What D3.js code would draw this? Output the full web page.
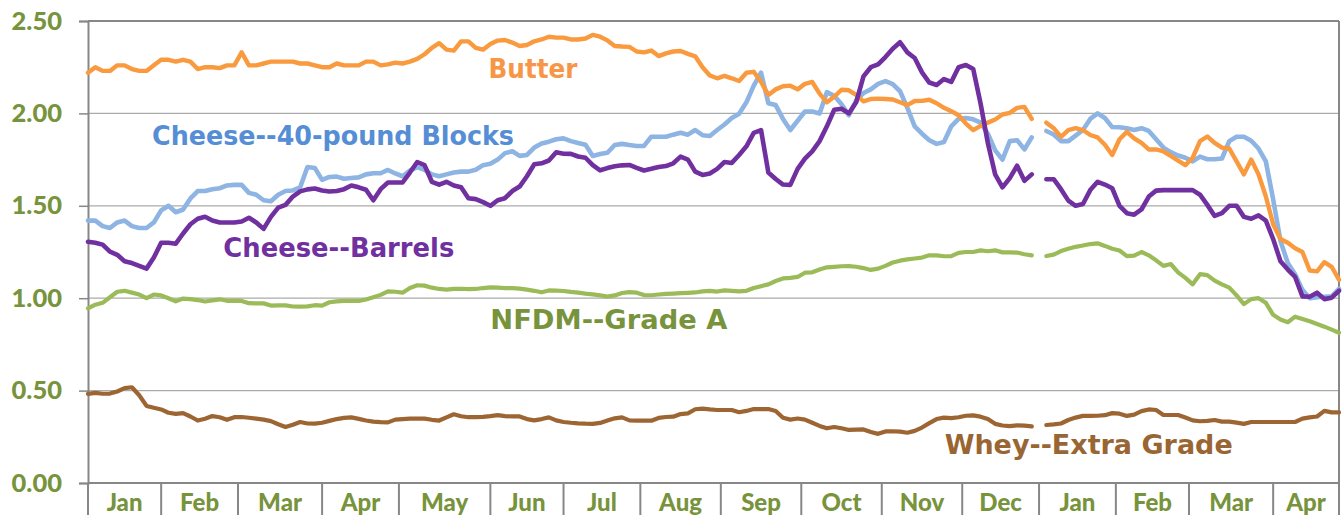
<!DOCTYPE html>
<html>
<head>
<meta charset="utf-8">
<script src="https://cdn.jsdelivr.net/npm/d3@7"></script>
<style>
  html, body { margin: 0; padding: 0; background: #ffffff; }
  svg { display: block; }
</style>
</head>
<body>
<svg id="chart" width="1343" height="515"></svg>
<script>
// ---------------- DATA ----------------
const months = ["Jan","Feb","Mar","Apr","May","Jun","Jul","Aug","Sep","Oct","Nov","Dec","Jan","Feb","Mar","Apr"];
// number of trading days in each month of the category axis
const tradingDays = [20,21,23,21,25,20,21,22,22,22,22,21,21,20,23,18];
// one price sample every 2 trading days ($/lb); null = no quote
const sampleStep = 2;
const yTicks = [0, 0.5, 1.0, 1.5, 2.0, 2.5];

const butter = [
 2.22,2.25,2.23,2.23,2.26,2.26,2.24,2.23,2.23,2.26,
 2.29,2.29,2.28,2.29,2.28,2.24,2.25,2.25,2.245,2.26,
 2.26,2.33,2.26,2.26,2.27,2.28,2.28,2.28,2.28,2.27,
 2.27,2.26,2.25,2.25,2.27,2.26,2.26,2.26,2.28,2.28,
 2.26,2.265,2.275,2.27,2.28,2.295,2.32,2.355,2.38,2.345,
 2.34,2.39,2.39,2.355,2.345,2.375,2.394,2.397,2.383,2.365,
 2.37,2.39,2.40,2.415,2.41,2.41,2.40,2.40,2.405,2.425,
 2.415,2.395,2.365,2.362,2.36,2.335,2.33,2.34,2.31,2.325,
 2.335,2.338,2.322,2.309,2.25,2.205,2.19,2.203,2.19,2.175,
 2.22,2.225,2.17,2.10,2.13,2.147,2.15,2.13,2.16,2.17,
 2.107,2.06,2.09,2.128,2.125,2.10,2.065,2.078,2.08,2.078,
 2.075,2.06,2.045,2.067,2.068,2.074,2.055,2.03,2.012,1.99,
 1.945,1.91,1.933,1.95,1.967,1.994,2.003,2.03,2.035,1.97,
 null,1.95,1.92,1.873,1.91,1.92,1.91,1.883,1.87,1.83,
 1.775,1.86,1.90,1.865,1.84,1.805,1.805,1.795,1.77,1.745,
 1.72,1.76,1.85,1.875,1.84,1.815,1.81,1.74,1.67,1.75,
 1.67,1.55,1.40,1.32,1.30,1.27,1.25,1.15,1.145,1.195,
 1.17,1.10
];

const blocks = [
 1.42,1.42,1.39,1.38,1.41,1.42,1.39,1.38,1.38,1.41,
 1.475,1.50,1.465,1.48,1.54,1.58,1.58,1.59,1.595,1.61,
 1.613,1.613,1.57,1.56,1.53,1.525,1.56,1.58,1.583,1.60,
 1.71,1.705,1.64,1.656,1.658,1.646,1.65,1.654,1.67,1.676,
 1.676,1.694,1.675,1.66,1.69,1.709,1.695,1.67,1.66,1.67,
 1.68,1.685,1.685,1.695,1.72,1.727,1.75,1.785,1.795,1.77,
 1.775,1.815,1.837,1.847,1.86,1.865,1.85,1.84,1.83,1.77,
 1.78,1.787,1.829,1.835,1.829,1.824,1.824,1.874,1.874,1.874,
 1.885,1.895,1.885,1.91,1.882,1.878,1.91,1.94,1.975,1.998,
 2.06,2.15,2.22,2.055,2.045,1.97,1.91,1.96,2.01,2.01,
 2.0,2.115,2.095,2.05,1.99,2.07,2.11,2.13,2.16,2.175,
 2.158,2.12,2.03,1.93,1.89,1.855,1.835,1.845,1.93,1.97,
 1.975,1.968,1.95,1.89,1.80,1.75,1.85,1.855,1.805,1.87,
 null,1.905,1.886,1.85,1.85,1.88,1.91,1.97,2.0,1.975,
 1.926,1.925,1.92,1.91,1.92,1.905,1.86,1.815,1.79,1.772,
 1.76,1.74,1.766,1.752,1.752,1.756,1.85,1.874,1.874,1.852,
 1.81,1.74,1.535,1.31,1.19,1.13,1.045,1.0,1.005,1.008,
 1.01,1.05
];

const barrels = [
 1.305,1.30,1.29,1.252,1.235,1.20,1.19,1.175,1.16,1.22,
 1.30,1.30,1.295,1.35,1.40,1.43,1.441,1.42,1.41,1.41,
 1.41,1.415,1.435,1.41,1.375,1.44,1.49,1.505,1.55,1.578,
 1.589,1.594,1.583,1.577,1.58,1.59,1.61,1.60,1.587,1.53,
 1.59,1.626,1.626,1.626,1.68,1.737,1.72,1.63,1.614,1.63,
 1.61,1.60,1.541,1.536,1.52,1.50,1.53,1.541,1.58,1.604,
 1.66,1.725,1.73,1.745,1.79,1.782,1.781,1.767,1.76,1.72,
 1.692,1.704,1.714,1.719,1.721,1.705,1.691,1.70,1.71,1.715,
 1.73,1.766,1.75,1.685,1.667,1.675,1.70,1.737,1.732,1.775,
 1.822,1.895,1.91,1.68,1.645,1.615,1.613,1.70,1.755,1.795,
 1.85,1.93,2.02,2.025,2.00,2.06,2.20,2.25,2.265,2.305,
 2.35,2.385,2.33,2.30,2.222,2.167,2.154,2.186,2.17,2.25,
 2.262,2.24,2.055,1.84,1.67,1.60,1.65,1.717,1.635,1.67,
 null,1.644,1.644,1.59,1.528,1.50,1.51,1.585,1.63,1.615,
 1.595,1.50,1.46,1.452,1.48,1.55,1.582,1.585,1.585,1.585,
 1.585,1.585,1.56,1.505,1.445,1.46,1.50,1.50,1.44,1.43,
 1.448,1.42,1.32,1.20,1.155,1.115,1.01,1.008,1.03,0.995,
 1.003,1.04
];

const nfdm = [
 0.945,0.965,0.975,1.005,1.035,1.04,1.03,1.02,1.0,1.02,
 1.015,1.00,0.983,0.998,0.995,0.99,0.982,0.988,0.994,0.986,
 0.987,0.985,0.973,0.972,0.972,0.96,0.961,0.961,0.955,0.954,
 0.956,0.962,0.96,0.978,0.983,0.985,0.985,0.985,0.993,1.005,
 1.018,1.037,1.035,1.03,1.055,1.07,1.068,1.057,1.05,1.046,
 1.05,1.051,1.049,1.05,1.055,1.059,1.057,1.055,1.054,1.052,
 1.046,1.04,1.032,1.042,1.041,1.039,1.034,1.03,1.025,1.021,
 1.015,1.009,1.015,1.028,1.033,1.03,1.017,1.016,1.02,1.023,
 1.025,1.027,1.029,1.031,1.037,1.04,1.036,1.042,1.04,1.037,
 1.04,1.055,1.065,1.075,1.093,1.107,1.11,1.115,1.138,1.14,
 1.155,1.167,1.17,1.173,1.174,1.17,1.163,1.153,1.16,1.175,
 1.193,1.203,1.21,1.215,1.22,1.232,1.232,1.227,1.228,1.245,
 1.25,1.25,1.259,1.254,1.259,1.248,1.248,1.247,1.238,1.232,
 null,1.228,1.236,1.255,1.268,1.278,1.285,1.293,1.297,1.283,
 1.268,1.258,1.228,1.23,1.25,1.232,1.205,1.175,1.185,1.14,
 1.11,1.075,1.13,1.125,1.095,1.075,1.057,1.015,0.968,0.995,
 1.0,0.975,0.91,0.885,0.87,0.9,0.888,0.875,0.86,0.846,
 0.83,0.813
];

const whey = [
 0.482,0.488,0.483,0.484,0.495,0.513,0.518,0.475,0.417,0.407,
 0.398,0.38,0.374,0.378,0.36,0.338,0.348,0.362,0.356,0.342,
 0.356,0.357,0.353,0.348,0.343,0.335,0.318,0.303,0.315,0.33,
 0.322,0.321,0.326,0.336,0.346,0.352,0.355,0.347,0.338,0.332,
 0.329,0.328,0.343,0.346,0.348,0.348,0.348,0.342,0.338,0.355,
 0.372,0.361,0.356,0.357,0.358,0.362,0.367,0.362,0.36,0.36,
 0.346,0.339,0.346,0.355,0.339,0.33,0.326,0.323,0.321,0.32,
 0.325,0.338,0.35,0.355,0.339,0.337,0.337,0.337,0.352,0.357,
 0.359,0.373,0.377,0.399,0.402,0.398,0.395,0.395,0.395,0.383,
 0.39,0.40,0.40,0.40,0.39,0.353,0.343,0.349,0.343,0.326,
 0.309,0.296,0.303,0.296,0.287,0.289,0.29,0.276,0.266,0.279,
 0.28,0.278,0.272,0.282,0.30,0.324,0.346,0.354,0.351,0.356,
 0.364,0.366,0.359,0.346,0.32,0.311,0.308,0.312,0.31,0.306,
 null,0.314,0.317,0.322,0.341,0.354,0.363,0.363,0.364,0.367,
 0.378,0.375,0.363,0.37,0.389,0.398,0.395,0.368,0.368,0.368,
 0.354,0.339,0.334,0.336,0.341,0.332,0.332,0.327,0.32,0.33,
 0.33,0.33,0.33,0.33,0.33,0.33,0.348,0.355,0.36,0.39,
 0.382,0.382
];

// ---------------- CHART ----------------
const W = 1343, H = 515;
const margin = { left: 88, right: 4, top: 21, bottom: 32 };
const svg = d3.select("#chart");

const monthStart = [0];
tradingDays.forEach((d, i) => monthStart.push(monthStart[i] + d));
const totalDays = monthStart[monthStart.length - 1];

const x = d3.scaleLinear().domain([0, totalDays]).range([margin.left, W - margin.right]);
const y = d3.scaleLinear().domain([0, 2.5]).range([H - margin.bottom, margin.top]);

const axisGray = "#878787";
const gridGray = "#ababab";
const labelGreen = "#77933C";

// gridlines
svg.append("g")
  .selectAll("line")
  .data(yTicks.filter(t => t > 0 && t < 2.5))
  .join("line")
  .attr("x1", x(0)).attr("x2", x(totalDays))
  .attr("y1", d => y(d)).attr("y2", d => y(d))
  .attr("stroke", gridGray).attr("stroke-width", 1.2);

// plot frame top / right
svg.append("line").attr("x1", x(0)).attr("x2", x(totalDays)).attr("y1", y(2.5)).attr("y2", y(2.5))
  .attr("stroke", axisGray).attr("stroke-width", 2);
svg.append("line").attr("x1", x(totalDays)).attr("x2", x(totalDays)).attr("y1", y(2.5)).attr("y2", y(0))
  .attr("stroke", axisGray).attr("stroke-width", 2);

// Y axis
const yAxis = d3.axisLeft(y).tickValues(yTicks).tickSize(9).tickPadding(17)
  .tickFormat(d3.format(".2f"));
const gy = svg.append("g").attr("transform", `translate(${x(0)},0)`).call(yAxis);
gy.select(".domain").attr("stroke", axisGray).attr("stroke-width", 2);
gy.selectAll(".tick line").attr("stroke", axisGray).attr("stroke-width", 1.5);
gy.selectAll(".tick text")
  .attr("fill", labelGreen)
  .style("font-family", "Lato, 'Open Sans', sans-serif")
  .style("font-weight", "900")
  .style("font-size", "25.5px");

// X axis: month separators and labels
const gx = svg.append("g");
gx.append("line").attr("x1", x(0)).attr("x2", x(totalDays)).attr("y1", y(0)).attr("y2", y(0))
  .attr("stroke", axisGray).attr("stroke-width", 2);
gx.selectAll("line.sep")
  .data(monthStart)
  .join("line").attr("class", "sep")
  .attr("x1", d => x(d)).attr("x2", d => x(d))
  .attr("y1", y(0)).attr("y2", H)
  .attr("stroke", axisGray).attr("stroke-width", 2);
gx.selectAll("text")
  .data(months)
  .join("text")
  .attr("x", (d, i) => x((monthStart[i] + monthStart[i + 1]) / 2))
  .attr("y", 511)
  .attr("text-anchor", "middle")
  .attr("fill", labelGreen)
  .style("font-family", "Lato, 'Open Sans', sans-serif")
  .style("font-weight", "900")
  .style("font-size", "24px")
  .text(d => d);

// series
const series = [
  { name: "NFDM--Grade A", values: nfdm, color: "#9BBB59", width: 4.2 },
  { name: "Whey--Extra Grade", values: whey, color: "#9C6532", width: 4.2 },
  { name: "Cheese--40-pound Blocks", values: blocks, color: "#8DB4E2", width: 4.6 },
  { name: "Butter", values: butter, color: "#F99A3E", width: 4.4 },
  { name: "Cheese--Barrels", values: barrels, color: "#7030A0", width: 4.6 }
];

const line = d3.line()
  .defined(d => d != null)
  .x((d, i) => x(i * sampleStep))
  .y(d => y(d));

svg.append("g").selectAll("path")
  .data(series)
  .join("path")
  .attr("d", s => line(s.values))
  .attr("fill", "none")
  .attr("stroke", s => s.color)
  .attr("stroke-width", s => s.width)
  .attr("stroke-linejoin", "round")
  .attr("stroke-linecap", "round");

// series labels (anchored in data coordinates: trading day, price)
const labels = [
  { text: "Butter", day: 109.5, price: 2.19, color: "#F79646", len: 89 },
  { text: "Cheese--40-pound Blocks", day: 17.5, price: 1.83, color: "#558ED5", len: 362 },
  { text: "Cheese--Barrels", day: 37, price: 1.224, color: "#7030A0", len: 231 },
  { text: "NFDM--Grade A", day: 110, price: 0.833, color: "#77933C", len: 237 },
  { text: "Whey--Extra Grade", day: 234.2, price: 0.157, color: "#996633", len: 288 }
];

svg.append("g").selectAll("text")
  .data(labels)
  .join("text")
  .attr("x", d => x(d.day))
  .attr("y", d => y(d.price))
  .attr("fill", d => d.color)
  .attr("textLength", d => d.len)
  .attr("lengthAdjust", "spacingAndGlyphs")
  .style("font-family", "'Comic Sans MS', 'DejaVu Sans', sans-serif")
  .style("font-weight", "bold")
  .style("font-size", "26px")
  .text(d => d.text);
</script>
</body>
</html>
